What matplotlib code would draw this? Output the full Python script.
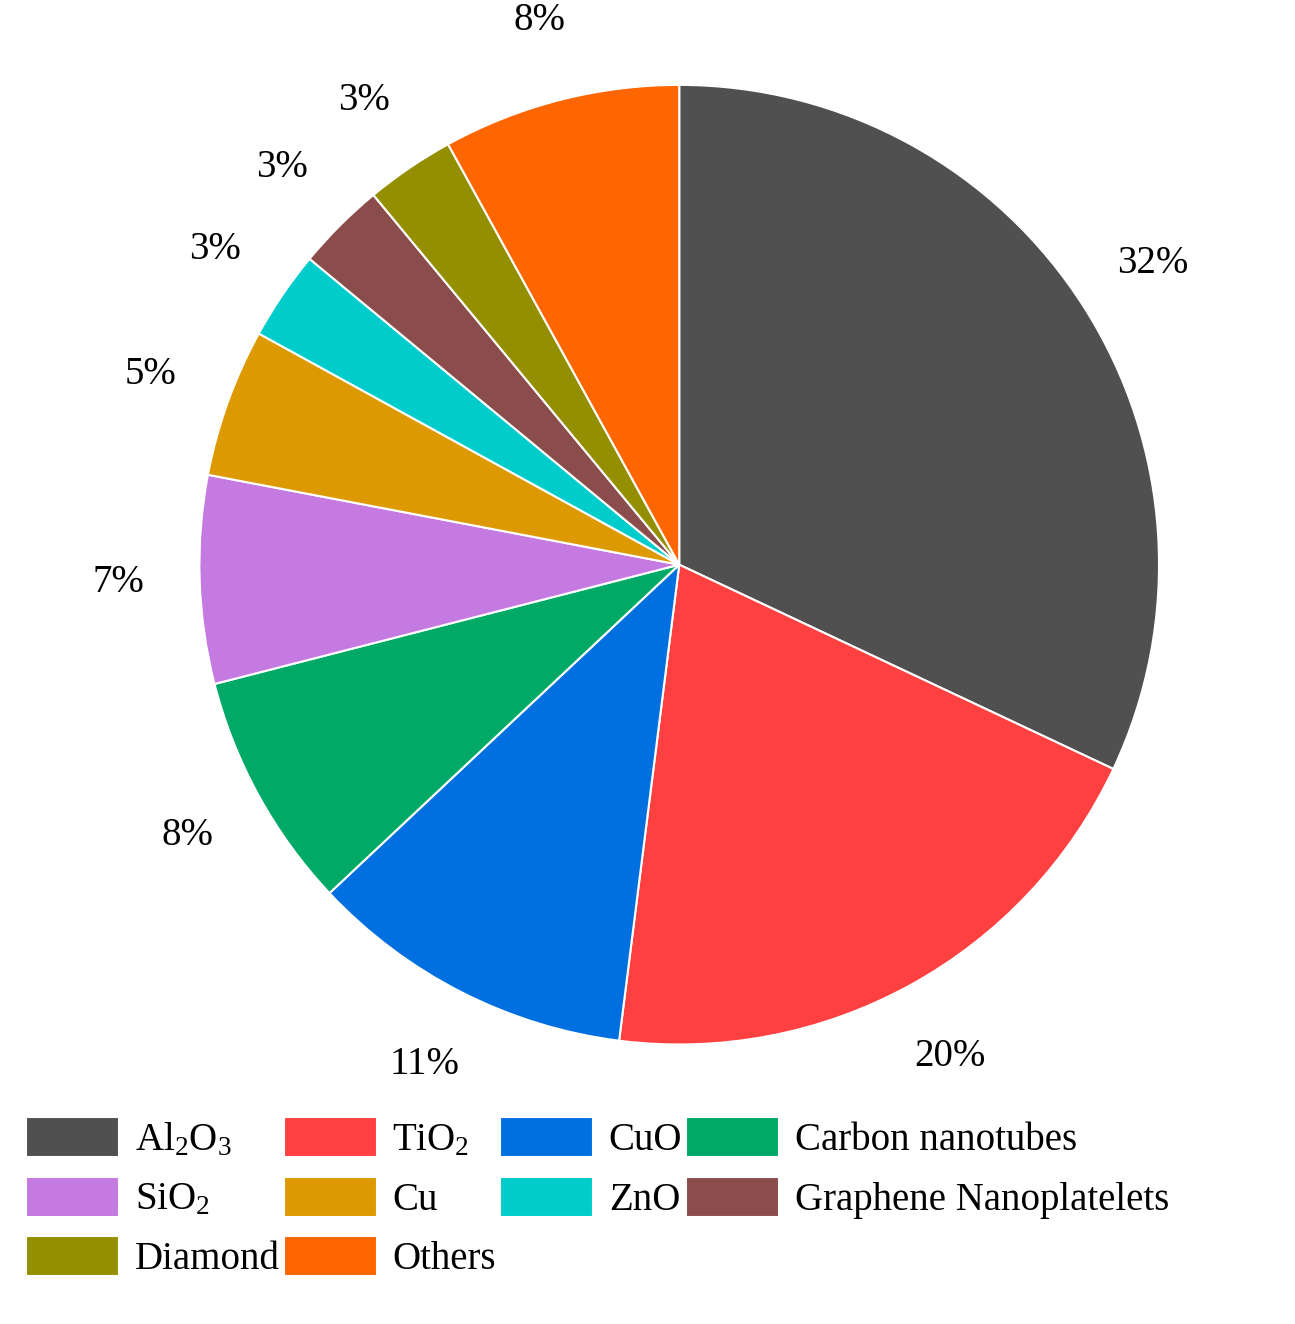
import matplotlib.pyplot as plt

plt.rcParams['font.family'] = ['Liberation Serif', 'DejaVu Serif']
plt.rcParams['mathtext.fontset'] = 'custom'
plt.rcParams['mathtext.rm'] = 'Liberation Serif'
plt.rcParams['mathtext.it'] = 'Liberation Serif:italic'
plt.rcParams['mathtext.bf'] = 'Liberation Serif:bold'

labels = ['Al$_2$O$_3$', 'TiO$_2$', 'CuO', 'Carbon nanotubes', 'SiO$_2$', 'Cu',
          'ZnO', 'Graphene Nanoplatelets', 'Diamond', 'Others']
values = [32, 20, 11, 8, 7, 5, 3, 3, 3, 8]
colors = ['#505050', '#FF4040', '#0070E0', '#00AA66', '#C47AE0', '#DD9900',
          '#00CCCC', '#8B4C4C', '#948F00', '#FF6600']

fig = plt.figure(figsize=(12.95, 13.24), dpi=100)
ax = fig.add_axes([0.154, 0.211, 0.741, 0.725])
wedges, texts = ax.pie(values, colors=colors, startangle=90, counterclock=False,
                       labels=[f'{v}%' for v in values], labeldistance=1.17,
                       wedgeprops=dict(edgecolor='white', linewidth=1.5),
                       textprops=dict(fontsize=28))
for t in texts:
    t.set_horizontalalignment('center')
ax.set_xlim(-1, 1)
ax.set_ylim(-1, 1)
ax.set_aspect('equal')

# legend filled row by row like the reference
order = [0, 4, 8, 1, 5, 9, 2, 6, 3, 7]
fig.legend([wedges[i] for i in order], [labels[i] for i in order],
           loc='upper left', bbox_to_anchor=(0.008, 0.168), ncol=4,
           frameon=False, fontsize=28, handlelength=2.4, handleheight=1.2,
           handletextpad=0.4, columnspacing=0.1, labelspacing=0.45, borderaxespad=0)

fig.savefig('out.png', dpi=100)
